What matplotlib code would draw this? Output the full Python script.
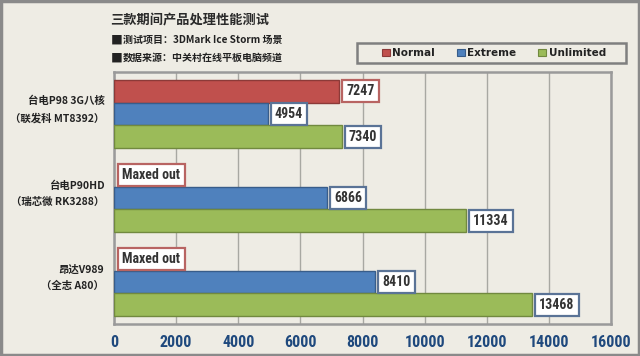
import matplotlib
matplotlib.use("Agg")
import matplotlib.pyplot as plt
from matplotlib.patches import Rectangle, Patch
from matplotlib import font_manager as fm
import matplotlib.transforms as mtransforms
import numpy as np

categories = ["台电P98 3G八核\n（联发科 MT8392）",
              "台电P90HD\n（瑞芯微 RK3288）",
              "昂达V989\n（全志 A80）"]
series_names = ["Normal", "Extreme", "Unlimited"]
normal = [7247, None, None]
extreme = [4954, 6866, 8410]
unlimited = [7340, 11334, 13468]
xticks = [0, 2000, 4000, 6000, 8000, 10000, 12000, 14000, 16000]
title = "三款期间产品处理性能测试"
sub1 = "测试项目：3DMark Ice Storm 场景"
sub2 = "数据来源：中关村在线平板电脑频道"
maxed_label = "Maxed out"

BG = "#EEECE4"
face = ["#C0504D", "#4F81BD", "#9BBB59"]
edge = ["#8C3A38", "#385D8A", "#71893F"]
box_edge = ["#B86462", "#5A7396", "#5A7396"]
CJK = ["Noto Sans CJK SC", "DejaVu Sans"]

# choose the narrowest bold face available
NUM = None
for fam in ["Roboto Condensed", "Liberation Sans Narrow", "Open Sans Condensed",
            "Arial Narrow"]:
    try:
        fm.findfont(fm.FontProperties(family=fam, weight="bold"),
                    fallback_to_default=False)
        NUM = dict(family=fam)
        vsize, tsize = 10, 11.5
        break
    except Exception:
        pass
if NUM is None:
    NUM = dict(family="DejaVu Sans", stretch="condensed")
    vsize, tsize = 9.5, 10.5

fig = plt.figure(figsize=(6.4, 3.56), dpi=100, facecolor=BG)
ax = fig.add_axes([114/640, 1-324/356, 497/640, 252/356])
ax.set_facecolor(BG)

fig.patches.append(Rectangle((0.002, 0.003), 0.996, 0.994, transform=fig.transFigure,
                             fill=False, edgecolor="#8A8A8A", linewidth=2.5))

y = np.arange(len(categories))
h = 0.27
all_series = [normal, extreme, unlimited]
for i, vals in enumerate(all_series):
    pos = y + (i - 1) * h
    for yy, v in zip(pos, vals):
        if v is None:
            ax.annotate(maxed_label, xy=(0, yy), xytext=(6, 0), textcoords="offset points",
                        ha="left", va="center", fontsize=vsize, fontweight="bold",
                        color="#333333", zorder=4,
                        bbox=dict(boxstyle="square,pad=0.3", fc="white",
                                  ec=box_edge[0], lw=1.6), **NUM)
            continue
        ax.barh(yy, v, height=h, color=face[i], edgecolor=edge[i], linewidth=1.0, zorder=3)
        ax.annotate(f"{v}", xy=(v, yy), xytext=(5, 0), textcoords="offset points",
                    ha="left", va="center", fontsize=vsize, fontweight="bold",
                    color="#333333", zorder=4,
                    bbox=dict(boxstyle="square,pad=0.3", fc="white",
                              ec=box_edge[i], lw=1.6), **NUM)

ax.set_xlim(0, 16000)
ax.set_ylim(2.5, -0.5)
ax.set_xticks(xticks)
ax.set_xticklabels([str(t) for t in xticks], fontsize=tsize, fontweight="bold",
                   color="#1F497D", **NUM)
ax.tick_params(axis="x", length=0, pad=8)
ax.set_yticks([])
blend = mtransforms.blended_transform_factory(ax.transAxes, ax.transData)
for yy, lab in zip(y, categories):
    ax.annotate(lab, xy=(0, yy), xycoords=blend, xytext=(-7, 3), textcoords="offset points",
                ha="right", va="center", fontsize=7.5, fontweight="bold", family=CJK,
                color="#222222", linespacing=1.75, multialignment="right",
                annotation_clip=False)
ax.grid(axis="x", color="#A8A8A2", linewidth=1.0, zorder=0)
for s in ax.spines.values():
    s.set_color("#9A9A9A")
    s.set_linewidth(1.8)

fig.text(110/640, 1-20/356, title, fontsize=9.5, family=CJK, color="#2A2A2A",
         ha="left", va="center", fontweight="bold")
for yy, t in [(40, sub1), (58, sub2)]:
    fig.text(111/640, 1-yy/356, "■", fontsize=8.5, family=CJK, color="#222222",
             ha="left", va="center")
    fig.text(123/640, 1-yy/356, t, fontsize=7.2, family=CJK, color="#222222",
             ha="left", va="center", fontweight="bold")

fig.patches.append(Rectangle((357/640, 1-63/356), 269/640, 20/356, transform=fig.transFigure,
                             fill=False, edgecolor="#7F7F7F", linewidth=1.8))
handles = [Patch(facecolor=face[i], edgecolor=edge[i], linewidth=0.8) for i in range(3)]
leg = fig.legend(handles, series_names, loc="center", bbox_to_anchor=(494/640, 1-53/356),
                 ncol=3, frameon=False, handlelength=0.75, handleheight=0.75,
                 handletextpad=0.25, columnspacing=2.1,
                 prop=dict(family="DejaVu Sans", weight="bold", size=7.5))
for t in leg.get_texts():
    t.set_color("#222222")

fig.savefig("out.png", dpi=100, facecolor=BG)
